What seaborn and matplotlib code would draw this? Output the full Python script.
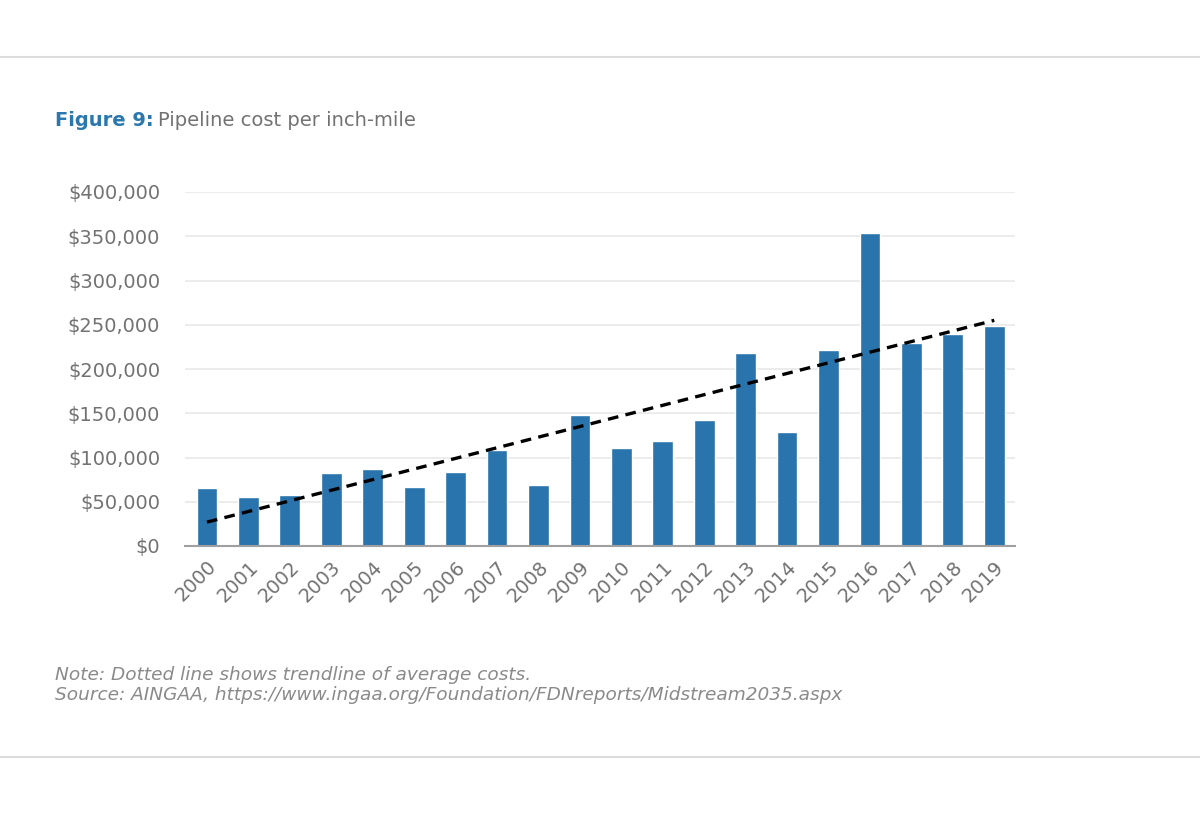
import matplotlib
matplotlib.use("Agg")
import pandas as pd
import seaborn as sns
from matplotlib import pyplot as plt
from matplotlib.ticker import FuncFormatter

# data
years = [str(y) for y in range(2000, 2020)]
cost = [65000, 55000, 58000, 82000, 87000, 67000, 84000, 109000, 69000, 148000,
        111000, 119000, 142000, 218000, 129000, 221000, 354000, 229000, 239000, 249000]
trend_years = ['2000', '2019']
trend_cost = [27000, 255000]
y_ticks = [0, 50000, 100000, 150000, 200000, 250000, 300000, 350000, 400000]

df = pd.DataFrame({'year': years, 'cost': cost})

sns.set_style('white')
plt.rcParams['font.family'] = ['DejaVu Sans']

bar_color = '#2a74ae'
gray = '#727272'

fig = plt.figure(figsize=(12, 8.15), dpi=100)
ax = fig.add_axes([185 / 1200, 1 - 546 / 815, (1015 - 185) / 1200, (546 - 192) / 815])

sns.barplot(data=df, x='year', y='cost', color=bar_color, width=0.5,
            saturation=1, ax=ax)

# trendline
tx = [years.index(y) for y in trend_years]
ax.plot(tx, trend_cost, color='black', lw=2.4, dashes=(3.2, 2.2), zorder=5)

ax.set_xlim(-0.53, 19.5)
ax.set_ylim(0, 400000)
ax.set_yticks(y_ticks)
ax.yaxis.set_major_formatter(FuncFormatter(lambda v, p: '${:,.0f}'.format(v)))
ax.grid(axis='y', color='#e9e9e9', lw=1.2)
ax.set_axisbelow(True)
for s in ['top', 'right', 'left']:
    ax.spines[s].set_visible(False)
ax.spines['bottom'].set_color('#a0a0a0')
ax.spines['bottom'].set_linewidth(1.5)
ax.set_xlabel('')
ax.set_ylabel('')
ax.tick_params(axis='both', length=0, colors=gray, labelsize=14)
ax.tick_params(axis='y', pad=18)
plt.setp(ax.get_xticklabels(), rotation=45, ha='right', rotation_mode='anchor')
ax.tick_params(axis='x', pad=8)

# title
t1 = fig.text(55 / 1200, 1 - 121 / 815, 'Figure 9:', color='#2b78ae',
              fontsize=14, fontweight='bold', va='center')
fig.canvas.draw()
bb = t1.get_window_extent()
fig.text(bb.x1 / 1200 + 0.004, 1 - 121 / 815, 'Pipeline cost per inch-mile',
         color=gray, fontsize=14, va='center')

# notes
fig.text(55 / 1200, 1 - 675 / 815, 'Note: Dotted line shows trendline of average costs.',
         color='#8a8a8a', fontsize=13.3, style='italic', va='center')
fig.text(55 / 1200, 1 - 695 / 815,
         'Source: AINGAA, https://www.ingaa.org/Foundation/FDNreports/Midstream2035.aspx',
         color='#8a8a8a', fontsize=13.3, style='italic', va='center')

# separator rules
for yy in [57, 757]:
    fig.add_artist(plt.Line2D([0, 1], [1 - yy / 815] * 2, color='#dcdcdc', lw=1.5))

fig.savefig('out.png', dpi=100, facecolor='white')
